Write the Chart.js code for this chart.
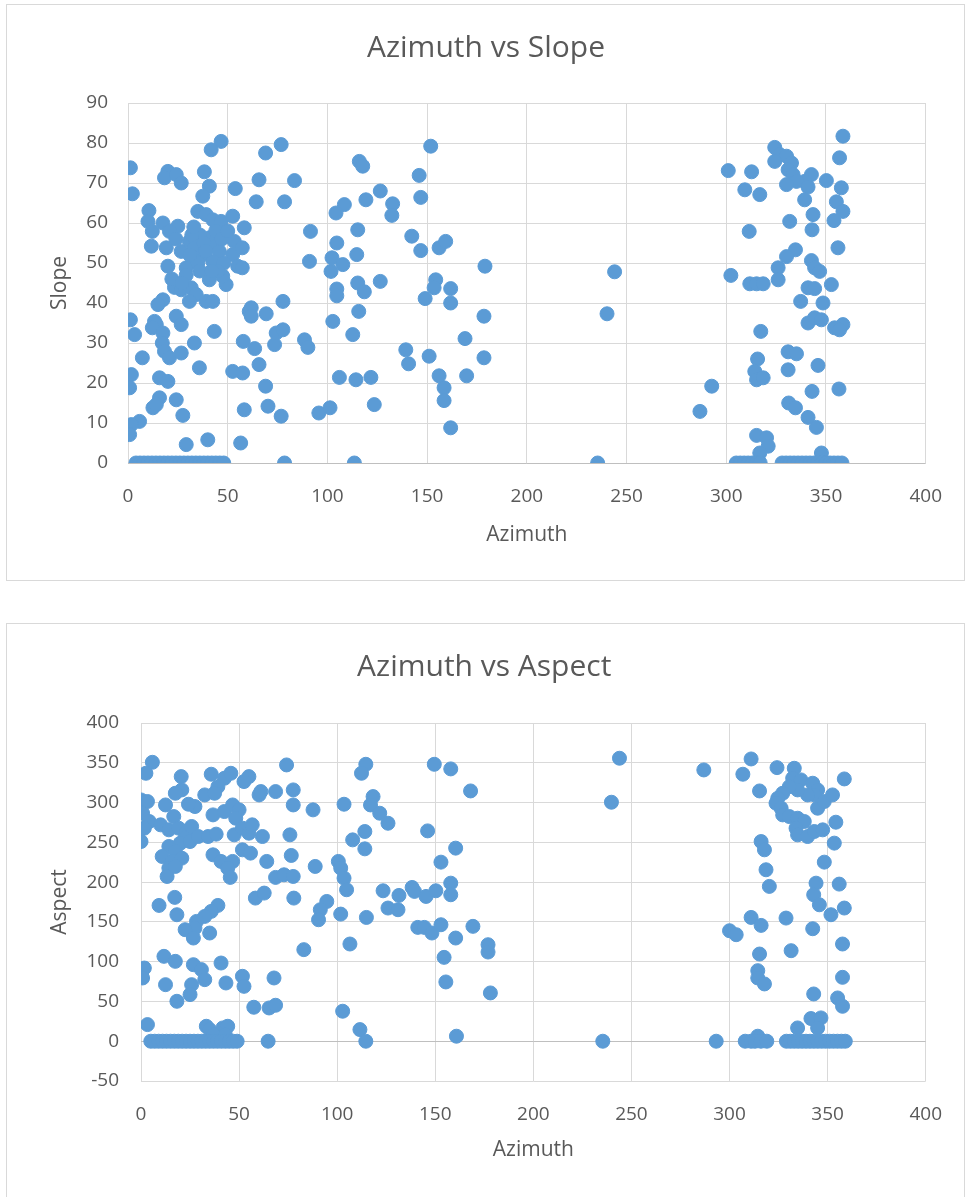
<!DOCTYPE html>
<html>
<head>
<meta charset="utf-8">
<script src="https://cdn.jsdelivr.net/npm/chart.js@4.4.1/dist/chart.umd.min.js"></script>
<style>
  body { margin: 0; background: #fff; width: 965px; height: 1197px; position: relative; overflow: hidden; }
  .panel { position: absolute; left: 6px; width: 959px; border: 1px solid #d9d9d9; box-sizing: border-box; background: #fff; }
  #p1 { top: 4px; height: 577px; }
  #p2 { top: 623px; height: 576px; }
  .panel canvas { display: block; }
</style>
</head>
<body>
<div class="panel" id="p1"><canvas id="chart-slope" width="957" height="575"></canvas></div>
<div class="panel" id="p2"><canvas id="chart-aspect" width="957" height="574"></canvas></div>
<script>
// Azimuth vs Slope / Azimuth vs Aspect, dos scatter estilo Excel.
const xRange = [0, 400, 50];
const slopeRange = [0, 90, 10];
const aspectRange = [-50, 400, 50];

// --- Azimuth vs Slope ---
const slopeAzimuth = [
  46.7, 41.7, 1.2, 20, 18.3, 24.2, 26.7, 38.3, 40.8, 37.5,
  53.8, 2.2, 10.5, 10, 12.2, 17.5, 25, 20.8, 35, 39.2,
  42.5, 46.7, 52.5, 11.7, 19.2, 26.7, 30.8, 33.3, 40.8, 44.2,
  37.5, 45.8, 42.5, 34.2, 53.3, 52.5, 55, 58.3, 20, 29.2,
  29.2, 35, 40.8, 49.2, 47.5, 23.3, 26.7, 31.7, 34.2, 30.8,
  39.2, 42.5, 17.5, 15, 60.8, 1.2, 13.3, 14.2, 24.2, 26.7,
  12.2, 17.5, 17.2, 18.3, 20.8, 3.3, 43.3, 33.3, 26.7, 7.2,
  35.8, 57.8, 52.5, 57.5, 1.7, 0.8, 15.8, 20, 24.2, 15.8,
  12.5, 14.2, 27.5, 58.3, 5.8, 1.7, 0.8, 29.2, 40, 56.5,
  36, 38, 44, 47, 39, 48, 32, 36, 45, 50,
  31, 42, 24, 22, 27, 33,
  4, 6, 8, 10, 12, 14, 16, 18, 20, 22,
  24, 26, 28, 30, 32, 34, 36, 38, 40, 42,
  44, 46, 48,
  76.8, 69, 65.7, 83.5, 64.3, 78.5, 91.5, 57.3, 57.3, 91,
  61.8, 61.8, 69.3, 77.7, 63.5, 73.5, 74.3, 77.7, 88.5, 90.2,
  65.7, 69, 70.2, 76.8, 95.7, 101.3, 78.5, 113.5, 116, 117.7,
  126.5, 108.5, 104.3, 119.3, 115.2, 104.7, 102.3, 107.7, 101.8, 114.7,
  104.7, 104.7, 115.2, 118.5, 126.5, 115.7, 102.7, 112.7, 106, 114.3,
  121.8, 123.5,
  151.8, 146, 146.8, 132.7, 132.3, 142.3, 146.8, 156, 159.3, 179,
  154.3, 153.5, 149, 161.8, 161.8, 178.5, 169, 139.3, 140.7, 151,
  178.5, 156, 158.5, 158.5, 169.8, 161.8,
  244, 240.2, 235.5, 292.7, 286.8,
  358.5, 356.8, 324.3, 326.8, 330.2, 332.7, 324.3, 331, 333.5, 301,
  312.7, 342.7, 339.3, 335.2, 330.2, 341, 350.2, 357.7, 309.3, 316.8,
  339.3, 355.2, 358.5, 354, 343.5, 331.8, 343, 311.5, 356, 334.7,
  330.2, 326, 342.7, 344.3, 346.8, 302.3, 311.8, 315.2, 318.5, 326,
  341, 344.3, 352.7, 337.3, 348.5, 341, 344.3, 347.7, 354.3, 358.5,
  356.8, 317.3, 331, 335.2, 315.7, 314.3, 315.2, 318.5, 331, 346,
  343, 356.5, 331.3, 334.7, 341, 345.2, 315.2, 320.2, 321, 316.8,
  347.7, 305, 307, 309, 311, 313, 315, 317, 328, 330,
  332, 334, 336, 338, 340, 342, 344, 346, 348, 350,
  352, 354, 356, 358
];
const slopeValues = [
  80.4, 78.3, 73.8, 72.9, 71.3, 72.1, 70, 72.8, 69.2, 66.7,
  68.6, 67.3, 63.1, 60.4, 57.9, 60, 59.2, 57.9, 62.9, 62.1,
  60.8, 60.4, 61.7, 54.2, 53.8, 52.9, 55.4, 53.8, 56.3, 54.2,
  52.1, 52.9, 50.4, 50.4, 55.4, 52.1, 49.2, 58.8, 49.2, 48.8,
  47, 50, 45.8, 44.6, 46.7, 43.9, 43.3, 43.8, 42.1, 40.4,
  40.4, 40.4, 40.8, 39.6, 37.9, 35.8, 35.4, 34.6, 36.7, 34.6,
  33.8, 32.5, 30, 27.9, 26.3, 32.1, 32.9, 30, 27.5, 26.3,
  23.8, 30.4, 22.9, 22.5, 22.1, 18.8, 21.3, 20.4, 15.8, 16.3,
  13.8, 14.6, 11.9, 13.3, 10.4, 9.6, 7.1, 4.6, 5.8, 5,
  57, 55, 58, 56, 53, 50, 57, 48, 48, 58,
  52, 48, 56, 46, 45, 59,
  0, 0, 0, 0, 0, 0, 0, 0, 0, 0,
  0, 0, 0, 0, 0, 0, 0, 0, 0, 0,
  0, 0, 0,
  79.6, 77.5, 70.8, 70.6, 65.3, 65.3, 57.9, 53.8, 48.8, 50.4,
  38.8, 36.7, 37.3, 40.4, 28.6, 29.6, 32.5, 33.3, 30.8, 28.9,
  24.6, 19.2, 14.2, 11.7, 12.5, 13.8, 0, 0, 75.4, 74.2,
  68, 64.6, 62.5, 65.8, 58.3, 55, 51.3, 49.6, 47.9, 52.1,
  43.5, 41.8, 45, 42.8, 45.4, 37.9, 35.4, 32.1, 21.4, 20.8,
  21.4, 14.6,
  79.2, 71.9, 66.4, 64.8, 61.9, 56.7, 53.1, 53.8, 55.4, 49.2,
  45.8, 43.8, 41.1, 43.6, 40, 36.7, 31.1, 28.3, 24.8, 26.7,
  26.3, 21.8, 18.8, 15.6, 21.8, 8.8,
  47.8, 37.3, 0, 19.2, 12.9,
  81.7, 76.3, 78.9, 77.1, 76.7, 75, 75.4, 73.3, 72.1, 73.1,
  72.8, 72.1, 70.4, 70.4, 69.6, 69, 70.6, 68.8, 68.3, 67.1,
  65.8, 65.3, 62.9, 60.6, 62.1, 60.4, 58.3, 57.9, 53.8, 53.3,
  51.6, 48.8, 50.6, 48.8, 47.9, 46.9, 44.8, 44.8, 44.8, 45.8,
  43.8, 43.6, 44.6, 40.4, 40, 35, 36.3, 35.8, 33.8, 34.6,
  33.3, 32.9, 27.8, 27.3, 26, 22.9, 20.8, 21.3, 23.3, 24.4,
  17.9, 18.5, 15, 13.8, 11.4, 8.9, 6.9, 6.3, 4.2, 2.5,
  2.5, 0, 0, 0, 0, 0, 0, 0, 0, 0,
  0, 0, 0, 0, 0, 0, 0, 0, 0, 0,
  0, 0, 0, 0
];

// --- Azimuth vs Aspect ---
const aspectAzimuth = [
  5.8, 2.5, 20.5, 20.8, 17.5, 35.8, 42.5, 45.8, 39.2, 32.5,
  37.5, 55, 52.5, 0, 3.3, 12.5, 27.5, 24.2, 36.7, 42.5,
  46.7, 50, 48.3, 0.8, 4.2, 1.7, 16.7, 10, 14.2, 19.2,
  23.3, 25.8, 22.5, 20, 25, 29.2, 34.2, 38.3, 47.5, 51.7,
  55, 56.7, 0, 14.2, 10.8, 17.5, 15.8, 20.8, 14.2, 13.3,
  17.5, 36.7, 40.8, 46.7, 44.2, 45.5, 51.7, 55.8, 58.3, 9.2,
  17.2, 18.3, 39.2, 35.8, 32.5, 28.3, 27.5, 22.5, 26.7, 35,
  11.7, 17.5, 1.7, 0.8, 26.7, 30.8, 32.5, 25.8, 25, 12.5,
  18.3, 40.8, 43.3, 51.7, 52.5, 57.5, 3.3, 33.3, 35, 41.7,
  44.2, 37, 43,
  5, 7, 9, 11, 13, 15, 17, 19, 21, 23,
  25, 27, 29, 31, 33, 35, 37, 39, 41, 43,
  45, 47, 49,
  74.2, 60.2, 61.1, 68.6, 77.6, 77.6, 87.7, 103.5, 114.6, 112.4,
  118.3, 117, 121.7, 125.9, 61.9, 75.9, 64.1, 76.6, 88.8, 107.9,
  114.1, 114.1, 100.6, 101.8, 68.6, 72.9, 77.6, 103.5, 104.8, 62.8,
  77.9, 94.7, 91.4, 90.5, 101.8, 114.9, 123.4, 125.9, 83, 106.5,
  67.8, 65.3, 68.6, 64.8, 102.8, 111.6, 114.6,
  149.5, 157.9, 168, 146.1, 160.4, 152.9, 131.5, 138.2, 139.4, 145.3,
  150.3, 157.9, 157.9, 131, 141.1, 144.4, 148.3, 152.9, 169.2, 160.4,
  176.9, 176.9, 154.5, 155.4, 178.1, 160.8,
  243.9, 239.8, 235.4, 286.9, 293.2,
  311, 306.8, 315.3, 324.2, 333, 332.2, 336.4, 342.4, 344.9, 343.2,
  339.8, 334.7, 330.5, 327.1, 324.6, 323.7, 326.3, 327.1, 330.5, 334.7,
  338.1, 333.9, 334.7, 339.8, 343.2, 347.5, 344.9, 348.3, 352.5, 358.5,
  354.2, 353.4, 348.3, 316.1, 317.8, 318.6, 320.3, 344.1, 342.9, 345.8,
  351.7, 355.9, 358.5, 311, 316.1, 328.8, 300, 303.4, 342.4, 315.3,
  331.4, 357.6, 314.4, 314.4, 317.8, 357.6, 342.9, 355.1, 357.6, 341.5,
  346.6, 334.7, 344.9, 314.4, 308, 311, 313, 316, 319, 329,
  331, 333, 335, 337, 339, 341, 343, 345, 347, 349,
  351, 353, 355, 357, 359
];
const aspectValues = [
  350.6, 336.8, 332.6, 315.9, 311.7, 335.6, 330.5, 336.8, 320, 309.6,
  311.7, 332.6, 326.4, 303.3, 301.3, 297, 295, 297.9, 284.5, 288.7,
  297, 290.8, 280.3, 286.6, 276.2, 267.8, 282.4, 272, 265.7, 267.8,
  263.6, 269.9, 255.2, 248.9, 251, 257.3, 257.3, 260.3, 259.4, 267.8,
  261.5, 272, 251, 244.8, 232.2, 238.5, 226, 230.1, 217.6, 207.1,
  219.7, 234.3, 226, 226, 217.6, 205.9, 240.6, 236.4, 179.9, 170.7,
  180.8, 159, 170.7, 163.2, 156.9, 150.6, 142.3, 140.2, 129.7, 136,
  106.7, 100.4, 92, 79.5, 96.2, 90, 77.4, 71.1, 58.6, 71.1,
  50.2, 98.3, 73.2, 81.6, 69, 42.7, 20.9, 18.8, 14.6, 16.7,
  18.8, 8, 8,
  0, 0, 0, 0, 0, 0, 0, 0, 0, 0,
  0, 0, 0, 0, 0, 0, 0, 0, 0, 0,
  0, 0, 0,
  347.3, 309.6, 313.8, 313.8, 315.9, 297, 290.8, 297.9, 348.1, 336.8,
  307.5, 297, 286.6, 274, 257.3, 259.4, 226, 233.5, 219.7, 253.1,
  263.6, 241.8, 226, 217.6, 205.9, 209.2, 207.1, 205, 190.4, 186.2,
  179.9, 175.7, 165.3, 152.7, 159.8, 155.6, 189.1, 167.4, 115.1, 122.2,
  79.5, 41.8, 45.2, 0, 37.7, 14.6, 0,
  348.1, 342.3, 314.6, 264.4, 242.7, 225.1, 183.3, 193.3, 188.3, 182,
  189.1, 198.7, 184.1, 165.3, 143.1, 143.1, 136, 146.4, 144.4, 129.7,
  121.3, 112.1, 105.4, 74.5, 60.7, 6.3,
  355.7, 300.4, 0, 341, 0,
  354.8, 335.6, 314.6, 343.9, 343.1, 330.5, 328.5, 324.3, 315.9, 309.6,
  309.6, 315.9, 320, 311.7, 305.4, 299.2, 292.9, 284.5, 282.4, 280.3,
  276.2, 267.8, 259.4, 257.3, 263.6, 265.7, 292.9, 301.3, 309.6, 329.7,
  275.3, 249, 225.1, 251, 240.6, 215.5, 194.6, 198.7, 184.1, 171.5,
  159, 197.5, 167.4, 155.6, 145.6, 154.8, 138.9, 133.9, 141.4, 109.6,
  113.8, 122.2, 88.7, 79.5, 72, 80.3, 59.4, 54.4, 43.9, 28.5,
  29.3, 16.7, 16.7, 6.3, 0, 0, 0, 0, 0, 0,
  0, 0, 0, 0, 0, 0, 0, 0, 0, 0,
  0, 0, 0, 0, 0
];

const FONT = '"Segoe UI", "Open Sans", "Noto Sans", sans-serif';
const TEXT = "#595959";
const GRID = "#d9d9d9";
const AXIS = "#bfbfbf";
const DOT = "#5b9bd5";
const TITLE_SIZE = 30, AXIS_SIZE = 21, TICK_SIZE = 19;

function pointsOf(xs, ys) {
  return xs.map((x, i) => ({ x, y: ys[i] }));
}

function buildChart(id, c) {
  const lhT = TITLE_SIZE * 1.2, lhA = AXIS_SIZE * 1.2;
  const titleTop = c.titleY - lhT / 2;
  const padBottom = 20;
  return new Chart(id, {
    type: "scatter",
    data: { datasets: [{ data: pointsOf(c.xs, c.ys), backgroundColor: DOT, borderColor: DOT,
      borderWidth: 1, pointRadius: 7, pointHoverRadius: 7 }] },
    options: {
      responsive: false, animation: false, events: [],
      layout: { padding: { left: c.padLeft, right: c.w - c.plotRight, top: 0, bottom: padBottom } },
      plugins: {
        legend: { display: false }, tooltip: { enabled: false },
        title: { display: true, text: c.title, color: TEXT,
          font: { family: FONT, size: TITLE_SIZE, weight: "normal" },
          padding: { top: titleTop, bottom: c.plotTop - lhT - titleTop } },
      },
      scales: {
        x: {
          type: "linear", min: xRange[0], max: xRange[1],
          ticks: { stepSize: xRange[2], padding: c.xTickPad, color: TEXT, font: { family: FONT, size: TICK_SIZE } },
          grid: { color: GRID, drawTicks: false }, border: { display: false },
          title: { display: true, text: "Azimuth", color: TEXT, font: { family: FONT, size: AXIS_SIZE },
            padding: { top: 0, bottom: (c.h - padBottom) - c.xTitleY - lhA / 2 } },
          afterFit: (s) => { s.height = c.h - padBottom - c.plotBottom; },
        },
        y: {
          type: "linear", min: c.yRange[0], max: c.yRange[1],
          ticks: { stepSize: c.yRange[2], padding: c.yTickPad, color: TEXT, font: { family: FONT, size: TICK_SIZE } },
          grid: { color: (ctx) => (ctx.tick && ctx.tick.value === 0 ? AXIS : GRID), drawTicks: false },
          border: { display: false },
          title: { display: true, text: c.yTitle, color: TEXT, font: { family: FONT, size: AXIS_SIZE },
            padding: { top: c.yTitleX - c.padLeft - lhA / 2, bottom: 0 } },
          afterFit: (s) => { s.width = c.plotLeft - c.padLeft; },
        },
      },
    },
  });
}

buildChart("chart-slope", {
  title: "Azimuth vs Slope", yTitle: "Slope", xs: slopeAzimuth, ys: slopeValues, yRange: slopeRange,
  w: 957, h: 575, padLeft: 33, plotLeft: 121, plotRight: 925, plotTop: 98, plotBottom: 458,
  titleY: 43, xTitleY: 530, yTitleX: 53, xTickPad: 22, yTickPad: 20,
});

buildChart("chart-aspect", {
  title: "Azimuth vs Aspect", yTitle: "Aspect", xs: aspectAzimuth, ys: aspectValues, yRange: aspectRange,
  w: 957, h: 574, padLeft: 33, plotLeft: 134, plotRight: 921.5, plotTop: 99, plotBottom: 457,
  titleY: 43, xTitleY: 526, yTitleX: 53, xTickPad: 22, yTickPad: 22,
});
</script>
</body>
</html>
